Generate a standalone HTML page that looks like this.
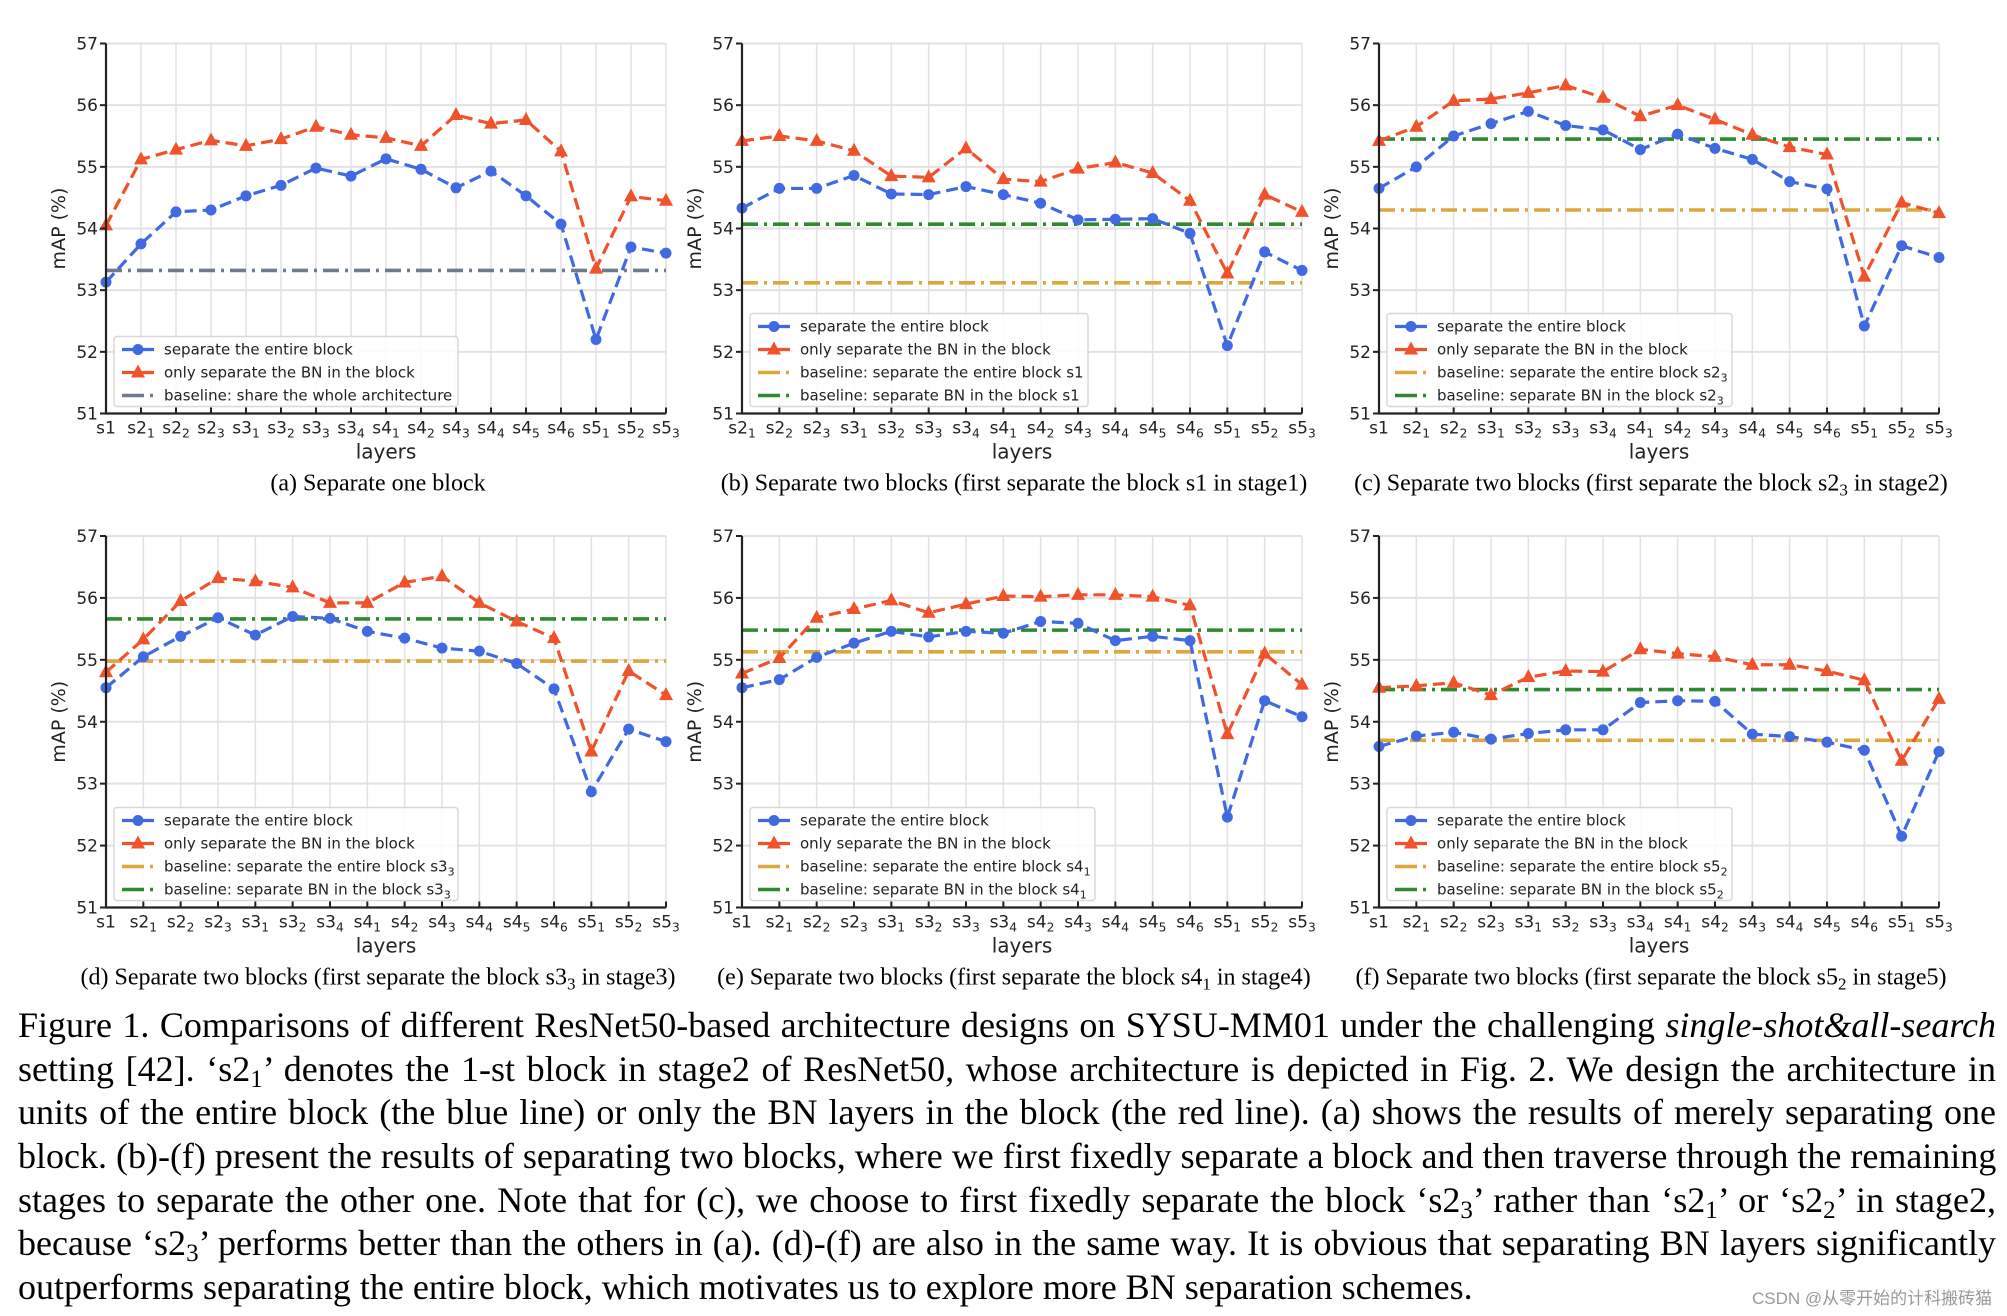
<!DOCTYPE html>
<html><head><meta charset="utf-8">
<style>
html,body{margin:0;padding:0;background:#fff;}
#wrap{position:relative;width:2007px;height:1316px;overflow:hidden;background:#fff;}
.cap{position:absolute;left:18px;width:1978px;font-family:"Liberation Serif",serif;font-size:36px;line-height:36px;color:#000;white-space:nowrap;text-align:justify;text-align-last:justify;}
.cap.last{text-align-last:left;}
sub{font-size:25px;vertical-align:-6px;line-height:0;}
#wm{position:absolute;left:1752px;top:1284px;font-family:"Liberation Sans","Noto Sans CJK SC",sans-serif;font-size:17px;color:#999;}
</style></head>
<body>
<div id="wrap">
<svg id="fig" width="2007" height="1000" style="position:absolute;left:0;top:0"></svg>
<div class="cap" style="top:1007px">Figure 1. Comparisons of different ResNet50-based architecture designs on SYSU-MM01 under the challenging <i>single-shot&amp;all-search</i></div>
<div class="cap" style="top:1051px">setting [42]. ‘s2<sub>1</sub>’ denotes the 1-st block in stage2 of ResNet50, whose architecture is depicted in Fig. 2. We design the architecture in</div>
<div class="cap" style="top:1094px">units of the entire block (the blue line) or only the BN layers in the block (the red line). (a) shows the results of merely separating one</div>
<div class="cap" style="top:1138px">block. (b)-(f) present the results of separating two blocks, where we first fixedly separate a block and then traverse through the remaining</div>
<div class="cap" style="top:1182px">stages to separate the other one. Note that for (c), we choose to first fixedly separate the block ‘s2<sub>3</sub>’ rather than ‘s2<sub>1</sub>’ or ‘s2<sub>2</sub>’ in stage2,</div>
<div class="cap" style="top:1225px">because ‘s2<sub>3</sub>’ performs better than the others in (a). (d)-(f) are also in the same way. It is obvious that separating BN layers significantly</div>
<div class="cap last" style="top:1269px">outperforms separating the entire block, which motivates us to explore more BN separation schemes.</div>
<div id="wm">CSDN @从零开始的计科搬砖猫</div>
</div>
<script>
const labelsA = ["s1","s2_1","s2_2","s2_3","s3_1","s3_2","s3_3","s3_4","s4_1","s4_2","s4_3","s4_4","s4_5","s4_6","s5_1","s5_2","s5_3"];
const blueA = [53.13,53.75,54.27,54.3,54.53,54.7,54.98,54.85,55.13,54.96,54.66,54.93,54.53,54.07,52.2,53.7,53.6];
const redA = [54.05,55.12,55.28,55.43,55.34,55.45,55.65,55.52,55.47,55.34,55.84,55.7,55.76,55.25,53.35,54.52,54.45];
const baseGrayA = 53.32;

const labelsB = ["s2_1","s2_2","s2_3","s3_1","s3_2","s3_3","s3_4","s4_1","s4_2","s4_3","s4_4","s4_5","s4_6","s5_1","s5_2","s5_3"];
const blueB = [54.33,54.65,54.65,54.86,54.56,54.55,54.68,54.55,54.41,54.14,54.15,54.16,53.92,52.1,53.62,53.32];
const redB = [55.42,55.5,55.42,55.26,54.85,54.83,55.3,54.8,54.76,54.97,55.07,54.9,54.45,53.27,54.55,54.27];
const baseOrangeB = 53.12, baseGreenB = 54.07;

const labelsC = ["s1","s2_1","s2_2","s3_1","s3_2","s3_3","s3_4","s4_1","s4_2","s4_3","s4_4","s4_5","s4_6","s5_1","s5_2","s5_3"];
const blueC = [54.65,55.0,55.5,55.7,55.9,55.67,55.6,55.28,55.53,55.3,55.12,54.76,54.64,52.42,53.72,53.53];
const redC = [55.42,55.65,56.07,56.1,56.2,56.32,56.12,55.82,56.0,55.77,55.52,55.32,55.2,53.22,54.42,54.25];
const baseOrangeC = 54.3, baseGreenC = 55.45;

const labelsD = ["s1","s2_1","s2_2","s2_3","s3_1","s3_2","s3_4","s4_1","s4_2","s4_3","s4_4","s4_5","s4_6","s5_1","s5_2","s5_3"];
const blueD = [54.55,55.05,55.38,55.68,55.4,55.7,55.67,55.46,55.35,55.19,55.14,54.94,54.53,52.87,53.88,53.68];
const redD = [54.8,55.33,55.95,56.32,56.27,56.17,55.92,55.92,56.25,56.35,55.92,55.62,55.35,53.52,54.82,54.43];
const baseOrangeD = 54.98, baseGreenD = 55.66;

const labelsE = ["s1","s2_1","s2_2","s2_3","s3_1","s3_2","s3_3","s3_4","s4_2","s4_3","s4_4","s4_5","s4_6","s5_1","s5_2","s5_3"];
const blueE = [54.55,54.68,55.04,55.27,55.46,55.37,55.46,55.43,55.62,55.59,55.31,55.38,55.31,52.46,54.34,54.08];
const redE = [54.78,55.03,55.68,55.82,55.96,55.76,55.9,56.03,56.02,56.05,56.05,56.02,55.88,53.8,55.1,54.6];
const baseOrangeE = 55.13, baseGreenE = 55.48;

const labelsF = ["s1","s2_1","s2_2","s2_3","s3_1","s3_2","s3_3","s3_4","s4_1","s4_2","s4_3","s4_4","s4_5","s4_6","s5_1","s5_3"];
const blueF = [53.6,53.77,53.83,53.72,53.81,53.87,53.87,54.31,54.34,54.33,53.8,53.76,53.67,53.54,52.15,53.52];
const redF = [54.55,54.58,54.63,54.43,54.72,54.82,54.81,55.17,55.1,55.05,54.92,54.92,54.82,54.67,53.37,54.37];
const baseOrangeF = 53.7, baseGreenF = 54.52;

const yTicks = [51,52,53,54,55,56,57];

const NS = "http://www.w3.org/2000/svg";
const svg = document.getElementById("fig");
const BLUE="#4169e1", RED="#f0522b", ORANGE="#dba83c", GREEN="#2f8a2f", GRAY="#6f7c8e";
const SANS='"DejaVu Sans","Liberation Sans",sans-serif';
const SERIF='"Liberation Serif",serif';

function mk(tag, attrs, parent){
  const e=document.createElementNS(NS,tag);
  for(const k in attrs) e.setAttribute(k,attrs[k]);
  (parent||svg).appendChild(e);
  return e;
}
function labelText(g, x, y, lab, size, anchor){
  const t=mk("text",{x:x,y:y,"font-family":SANS,"font-size":size,fill:"#222","text-anchor":anchor||"middle"},g);
  
  
  const parts=lab.split("_");
  t.appendChild(document.createTextNode(parts[0]));
  if(parts[1]){
    const s=mk("tspan",{"font-size":size*0.72,dy:4},t);
    s.textContent=parts[1];
  }
  return t;
}

function drawPanel(p){
  const g=mk("g",{});
  
  
  const n=p.labels.length;
  const xs=i=>p.x0+(p.x1-p.x0)*i/(n-1);
  const ys=v=>p.yb+(p.yt-p.yb)*(v-51)/6;
  yTicks.forEach(v=>{
    const l=mk("line",{x1:p.x0,x2:p.x1,y1:ys(v),y2:ys(v),stroke:"#e2e2e2","stroke-width":2},g);
    
    
  });
  p.labels.forEach((lab,i)=>{
    const l=mk("line",{x1:xs(i),x2:xs(i),y1:p.yt,y2:p.yb,stroke:"#e2e2e2","stroke-width":1.5},g);
    
    
  });
  p.baselines.forEach(b=>{
    const l=mk("line",{x1:p.x0,x2:p.x1,y1:ys(b.v),y2:ys(b.v),stroke:b.c,"stroke-width":3.6,"stroke-dasharray":"16,6,3,6"},g);
    
    
  });
  [[p.blue,BLUE,"circle"],[p.red,RED,"tri"]].forEach(([vals,c,m])=>{
    const pts=vals.map((v,i)=>xs(i)+","+ys(v)).join(" ");
    const pl=mk("polyline",{points:pts,fill:"none",stroke:c,"stroke-width":3.2,"stroke-dasharray":"12,6"},g);
    
    
    vals.forEach((v,i)=>{
      const x=xs(i),y=ys(v);
      let e;
      if(m==="circle") e=mk("circle",{cx:x,cy:y,r:5.5,fill:c},g);
      else e=mk("polygon",{points:`${x},${y-8} ${x+7},${y+5} ${x-7},${y+5}`,fill:c},g);
      
      
    });
  });
  const ax=mk("path",{d:`M${p.x0},${p.yt} V${p.yb} H${p.x1}`,fill:"none",stroke:"#222","stroke-width":2.2},g);
  
  
  yTicks.forEach(v=>{
    mk("line",{x1:p.x0-6,x2:p.x0,y1:ys(v),y2:ys(v),stroke:"#222","stroke-width":2},g);
    const t=mk("text",{x:p.x0-8,y:ys(v)+6,"font-family":SANS,"font-size":17,fill:"#222","text-anchor":"end"},g);
    t.textContent=v;
    
    
  });
  p.labels.forEach((lab,i)=>{
    mk("line",{x1:xs(i),x2:xs(i),y1:p.yb,y2:p.yb-6,stroke:"#222","stroke-width":2},g);
    labelText(g,xs(i),p.yb+20,lab,17);
  });
  const yt=mk("text",{x:0,y:0,"font-family":SANS,"font-size":19,fill:"#222","text-anchor":"middle",transform:`translate(${p.x0-41},${(p.yt+p.yb)/2}) rotate(-90)`},g);
  yt.textContent="mAP (%)";
  
  
  const xt=mk("text",{x:(p.x0+p.x1)/2,y:p.yb+45,"font-family":SANS,"font-size":20,fill:"#222","text-anchor":"middle"},g);
  xt.textContent="layers";
  
  
  const entries=[{c:BLUE,m:"circle",t:"separate the entire block"},{c:RED,m:"tri",t:"only separate the BN in the block"}].concat(p.legendBase);
  const lh=23, lt=p.yb-(entries.length*lh+8), lx=p.x0+8;
  const box=mk("rect",{x:lx,y:lt,width:p.legW,height:entries.length*lh+1,rx:3,fill:"#fff","fill-opacity":0.85,stroke:"#d8d8d8","stroke-width":1.5},g);
  
  
  entries.forEach((en,k)=>{
    const y=lt+13+k*lh;
    if(en.m){
      mk("line",{x1:lx+8,x2:lx+40,y1:y,y2:y,stroke:en.c,"stroke-width":3.2},g);
      if(en.m==="circle") mk("circle",{cx:lx+24,cy:y,r:5.5,fill:en.c},g);
      else mk("polygon",{points:`${lx+24},${y-8} ${lx+31},${y+5} ${lx+17},${y+5}`,fill:en.c},g);
    } else {
      mk("line",{x1:lx+8,x2:lx+40,y1:y,y2:y,stroke:en.c,"stroke-width":3.6,"stroke-dasharray":"22,6,3,30"},g);
    }
    const t=mk("text",{x:lx+50,y:y+5,"font-family":SANS,"font-size":15,fill:"#222"},g);
    
    
    t.appendChild(document.createTextNode(en.t));
    if(en.sub){const s=mk("tspan",{"font-size":11,dy:4},t);s.textContent=en.sub;}
  });
  const cp=mk("text",{x:(p.x0+p.x1)/2-8,y:p.yb+77,"font-family":SERIF,"font-size":24,fill:"#000","text-anchor":"middle"},g);
  
  
  cp.appendChild(document.createTextNode(p.cap[0]));
  if(p.cap[1]){
    const s=mk("tspan",{"font-size":17,dy:5},cp);s.textContent=p.cap[1];
    const r=mk("tspan",{dy:-5},cp);r.textContent=p.cap[2];
  }
}
function base2(o){return [{c:ORANGE,t:"baseline: separate the entire block "+o[0],sub:o[1]},{c:GREEN,t:"baseline: separate BN in the block "+o[0],sub:o[1]}];}
const T1=43.5,B1=413.5,T2=536,B2=907.5;
drawPanel({id:"a",x0:106,x1:666,yt:T1,yb:B1,labels:labelsA,blue:blueA,red:redA,baselines:[{v:baseGrayA,c:GRAY}],legendBase:[{c:GRAY,t:"baseline: share the whole architecture"}],legW:344,cap:["(a) Separate one block"]});
drawPanel({id:"b",x0:742,x1:1302,yt:T1,yb:B1,labels:labelsB,blue:blueB,red:redB,baselines:[{v:baseOrangeB,c:ORANGE},{v:baseGreenB,c:GREEN}],legendBase:base2(["s1",""]),legW:338,cap:["(b) Separate two blocks (first separate the block s1 in stage1)"]});
drawPanel({id:"c",x0:1379,x1:1939,yt:T1,yb:B1,labels:labelsC,blue:blueC,red:redC,baselines:[{v:baseOrangeC,c:ORANGE},{v:baseGreenC,c:GREEN}],legendBase:base2(["s2","3"]),legW:345,cap:["(c) Separate two blocks (first separate the block s2","3"," in stage2)"]});
drawPanel({id:"d",x0:106,x1:666,yt:T2,yb:B2,labels:labelsD,blue:blueD,red:redD,baselines:[{v:baseOrangeD,c:ORANGE},{v:baseGreenD,c:GREEN}],legendBase:base2(["s3","3"]),legW:344,cap:["(d) Separate two blocks (first separate the block s3","3"," in stage3)"]});
drawPanel({id:"e",x0:742,x1:1302,yt:T2,yb:B2,labels:labelsE,blue:blueE,red:redE,baselines:[{v:baseOrangeE,c:ORANGE},{v:baseGreenE,c:GREEN}],legendBase:base2(["s4","1"]),legW:345,cap:["(e) Separate two blocks (first separate the block s4","1"," in stage4)"]});
drawPanel({id:"f",x0:1379,x1:1939,yt:T2,yb:B2,labels:labelsF,blue:blueF,red:redF,baselines:[{v:baseOrangeF,c:ORANGE},{v:baseGreenF,c:GREEN}],legendBase:base2(["s5","2"]),legW:345,cap:["(f) Separate two blocks (first separate the block s5","2"," in stage5)"]});
</script>
</body></html>
